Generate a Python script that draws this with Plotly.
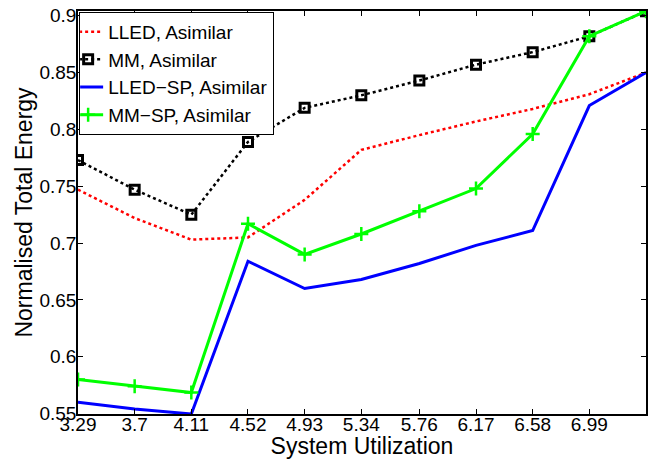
import plotly.graph_objects as go

x_vals = [3.29, 3.70, 4.11, 4.52, 4.93, 5.34, 5.76, 6.17, 6.58, 6.99, 7.40]
tick_vals = [3.29, 3.70, 4.11, 4.52, 4.93, 5.34, 5.76, 6.17, 6.58, 6.99]
tick_text = ["3.29", "3.7", "4.11", "4.52", "4.93", "5.34", "5.76", "6.17", "6.58", "6.99"]
y_ticks = [0.55, 0.6, 0.65, 0.7, 0.75, 0.8, 0.85, 0.9]
y_tick_text = ["0.55", "0.6", "0.65", "0.7", "0.75", "0.8", "0.85", "0.9"]

lled = [0.747, 0.722, 0.703, 0.705, 0.738, 0.782, 0.795, 0.807, 0.818, 0.831, 0.850]
mm = [0.773, 0.747, 0.725, 0.789, 0.819, 0.830, 0.843, 0.857, 0.868, 0.882, 0.904]
lled_sp = [0.560, 0.554, 0.5496, 0.684, 0.660, 0.668, 0.682, 0.698, 0.711, 0.821, 0.850]
mm_sp = [0.580, 0.574, 0.5685, 0.717, 0.690, 0.708, 0.728, 0.748, 0.796, 0.882, 0.904]

FONT = "Liberation Sans, Arial, Helvetica, sans-serif"

fig = go.Figure()
fig.add_trace(go.Scatter(x=x_vals, y=lled, mode="lines", name="LLED, Asimilar",
                         line=dict(color="#ff0000", width=2.5, dash="dot")))
fig.add_trace(go.Scatter(x=x_vals, y=mm, mode="lines+markers", name="MM, Asimilar",
                         line=dict(color="#000000", width=2.5, dash="dot"),
                         marker=dict(symbol="square-open", size=9, color="#000000",
                                     line=dict(width=3, color="#000000"))))
fig.add_trace(go.Scatter(x=x_vals, y=lled_sp, mode="lines", name="LLED\u2212SP, Asimilar",
                         line=dict(color="#0000ff", width=3)))
fig.add_trace(go.Scatter(x=x_vals, y=mm_sp, mode="lines+markers", name="MM\u2212SP, Asimilar",
                         line=dict(color="#00ff00", width=3),
                         marker=dict(symbol="cross-thin", size=10, color="#00ff00",
                                     line=dict(width=2.5, color="#00ff00"))))

axis_common = dict(showline=True, linecolor="black", linewidth=1.5, mirror="ticks",
                   ticks="inside", ticklen=5, tickwidth=1, tickcolor="black",
                   showgrid=False, zeroline=False, automargin=False,
                   tickfont=dict(family=FONT, size=19, color="black"))

fig.update_layout(
    width=659, height=459,
    margin=dict(l=78, r=13, t=11, b=45, autoexpand=False),
    paper_bgcolor="white", plot_bgcolor="white",
    font=dict(family=FONT, color="black"),
    xaxis=dict(range=[3.29, 7.40], tickvals=tick_vals, ticktext=tick_text,
               ticklabelstandoff=-8,
               title=dict(text="System Utilization", font=dict(family=FONT, size=23), standoff=0),
               **axis_common),
    yaxis=dict(range=[0.5496, 0.9042], tickvals=y_ticks, ticktext=y_tick_text,
               ticklabelstandoff=-4,
               title=dict(text="Normalised Total Energy", font=dict(family=FONT, size=23), standoff=0),
               **axis_common),
    legend=dict(x=0.002, y=0.998, xanchor="left", yanchor="top",
                bgcolor="white", bordercolor="black", borderwidth=1,
                font=dict(family=FONT, size=19, color="black"),
                itemwidth=30, tracegroupgap=0, indentation=-12),
    showlegend=True,
)

fig.write_html("out.html")
